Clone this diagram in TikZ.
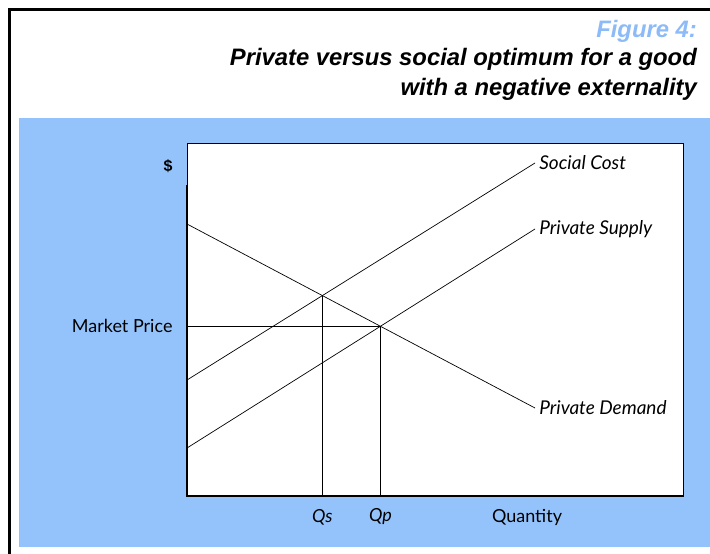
\documentclass[tikz,border=0pt]{standalone}
\usepackage{fontspec}
\setmainfont{Liberation Sans}
\newfontfamily\plotfont{Lato}
\definecolor{panelblue}{RGB}{148,195,252}
\definecolor{figblue}{RGB}{140,187,248}
\tikzset{
  curve/.style={line width=0.7pt},
  curvelabel/.style={anchor=west,inner sep=4pt,font=\plotfont\itshape\fontsize{19}{19}\selectfont},
  axislabel/.style={font=\plotfont\fontsize{18}{18}\selectfont},
  qlabel/.style={font=\plotfont\itshape\fontsize{18}{18}\selectfont},
  titletext/.style={anchor=east,inner sep=0pt,font=\bfseries\itshape\fontsize{23.8}{23.8}\selectfont}
}
\begin{document}
\begin{tikzpicture}[x=1pt,y=-1pt]
  \useasboundingbox (0,0) rectangle (710,554);
  \fill[white] (0,0) rectangle (710,554);
  % frame and panel
  \draw[line width=3pt] (9.5,554) -- (9.5,9.5) -- (710,9.5);
  \fill[panelblue] (19,118) rectangle (710,547);
  % title
  \node[titletext,text=figblue] (fig) at (697,31) {Figure 4:};
  \node[titletext] (title1) at (697,59) {Private versus social optimum for a good};
  \node[titletext] (title2) at (697,89) {with a negative externality};
  % plot area
  \coordinate (origin) at (187,496);
  \coordinate (topright) at (683,143);
  \fill[white] (origin) rectangle (topright);
  \draw[line width=1pt] (origin) rectangle (topright);
  \draw[line width=1.6pt] (187,185) -- (origin) -- (683,496);
  % curves
  \coordinate (sc0) at (187,380);
  \coordinate (sc1) at (535,163);
  \coordinate (ps0) at (187,448);
  \coordinate (ps1) at (535,229);
  \coordinate (pd0) at (187,224);
  \coordinate (pd1) at (535,408);
  \coordinate (social) at (intersection of sc0--sc1 and pd0--pd1);
  \coordinate (private) at (intersection of ps0--ps1 and pd0--pd1);
  \draw[curve] (sc0) -- (sc1) node[curvelabel] (sclab) {Social Cost};
  \draw[curve] (ps0) -- (ps1) node[curvelabel] (pslab) {Private Supply};
  \draw[curve] (pd0) -- (pd1) node[curvelabel] (pdlab) {Private Demand};
  % optimum levels
  \draw[curve] (social) -- (social |- origin);
  \draw[curve] (private) -- (private |- origin);
  \draw[curve] (origin |- private) -- (private);
  % axis labels
  \node[qlabel] (qs) at ([yshift=-21pt]social |- origin) {Qs};
  \node[qlabel] (qp) at ([yshift=-21pt]private |- origin) {Qp};
  \node[axislabel] (qty) at (527,517) {Quantity};
  \node[axislabel,anchor=east] (mp) at ([xshift=-11pt]origin |- private) {Market Price};
  \node[font=\bfseries\fontsize{16}{16}\selectfont] (dollar) at (168,166) {\$};
\end{tikzpicture}
\end{document}
